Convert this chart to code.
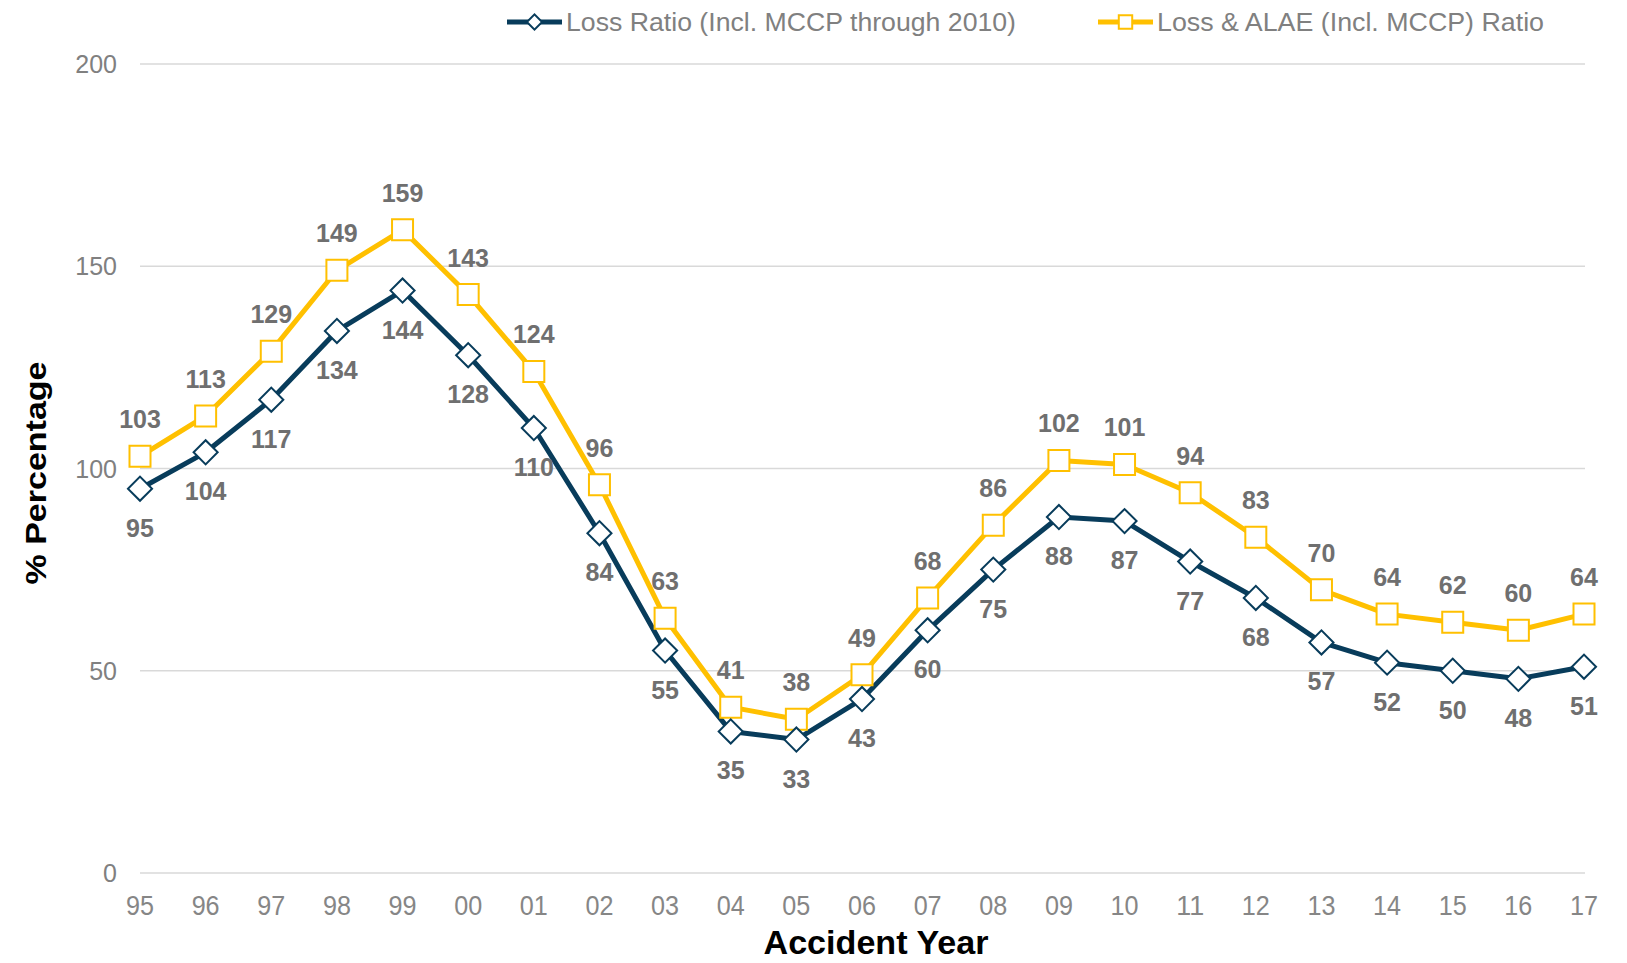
<!DOCTYPE html>
<html>
<head>
<meta charset="utf-8">
<script src="https://cdn.jsdelivr.net/npm/d3@7"></script>
<style>
    body { margin: 0; background: white; }
    svg { display: block; font-family: 'Liberation Sans', Arial, sans-serif; }
</style>
</head>
<body>
<div id="chart"></div>
<script>
// DATA
const years = ['95', '96', '97', '98', '99', '00', '01', '02', '03', '04', '05', '06',
    '07', '08', '09', '10', '11', '12', '13', '14', '15', '16', '17'];
const lossRatio = [95, 104, 117, 134, 144, 128, 110, 84, 55, 35, 33, 43, 60, 75, 88, 87, 77, 68, 57, 52, 50, 48, 51];
const lossAlae = [103, 113, 129, 149, 159, 143, 124, 96, 63, 41, 38, 49, 68, 86, 102, 101, 94, 83, 70, 64, 62, 60, 64];
const yTicks = [0, 50, 100, 150, 200];
const seriesNames = ['Loss Ratio (Incl. MCCP through 2010)', 'Loss & ALAE (Incl. MCCP) Ratio'];

// DIMENSIONS
const width = 1627;
const height = 963;
const navy = '#083c5b';
const gold = '#ffc000';

const svg = d3
    .select('#chart')
    .append('svg')
    .attr('width', width)
    .attr('height', height);

// SCALES
const xScale = d3
    .scalePoint()
    .domain(years)
    .range([140, 1584]);

const yScale = d3
    .scaleLinear()
    .domain([0, 200])
    .range([873, 64]);

// GRIDLINES
svg
    .append('g')
    .selectAll('line')
    .data(yTicks)
    .enter()
    .append('line')
    .attr('x1', 140)
    .attr('x2', 1585)
    .attr('y1', d => yScale(d))
    .attr('y2', d => yScale(d))
    .attr('stroke', '#d9d9d9')
    .attr('stroke-width', 1.5);

// Y TICK LABELS
svg
    .append('g')
    .selectAll('text')
    .data(yTicks)
    .enter()
    .append('text')
    .text(d => d)
    .attr('x', 117)
    .attr('y', d => yScale(d) + 9)
    .attr('text-anchor', 'end')
    .attr('font-size', 25)
    .attr('fill', '#808080');

// X TICK LABELS
svg
    .append('g')
    .selectAll('text')
    .data(years)
    .enter()
    .append('text')
    .text(d => d)
    .attr('x', d => xScale(d))
    .attr('y', 915)
    .attr('text-anchor', 'middle')
    .attr('font-size', 27)
    .attr('textLength', 28)
    .attr('lengthAdjust', 'spacingAndGlyphs')
    .attr('fill', '#868686');

// AXIS TITLES
svg
    .append('text')
    .text('Accident Year')
    .attr('x', 876)
    .attr('y', 954)
    .attr('text-anchor', 'middle')
    .attr('font-size', 33)
    .attr('font-weight', 'bold')
    .attr('textLength', 225)
    .attr('lengthAdjust', 'spacingAndGlyphs')
    .attr('fill', 'black');

svg
    .append('text')
    .text('% Percentage')
    .attr('transform', 'translate(46,473)rotate(-90)')
    .attr('text-anchor', 'middle')
    .attr('font-size', 30)
    .attr('font-weight', 'bold')
    .attr('textLength', 223)
    .attr('lengthAdjust', 'spacingAndGlyphs')
    .attr('fill', 'black');

// LINE GENERATOR
const line = d3
    .line()
    .x((d, i) => xScale(years[i]))
    .y(d => yScale(d));

const diamond = d3.symbol().type(d3.symbolSquare).size(290);
const square = d3.symbol().type(d3.symbolSquare).size(441);

// SERIES
const series = [
    { values: lossAlae, color: gold, marker: square, rot: 0, dy: -28 },
    { values: lossRatio, color: navy, marker: diamond, rot: 45, dy: 48 }
];

series.forEach(s => {
    svg
        .append('path')
        .datum(s.values)
        .attr('d', line)
        .attr('fill', 'none')
        .attr('stroke', s.color)
        .attr('stroke-width', 5)
        .attr('stroke-linejoin', 'round');
});

series.forEach(s => {
    svg
        .append('g')
        .selectAll('path')
        .data(s.values)
        .enter()
        .append('path')
        .attr('d', s.marker)
        .attr('transform', (d, i) => `translate(${xScale(years[i])},${yScale(d)})rotate(${s.rot})`)
        .attr('fill', 'white')
        .attr('stroke', s.color)
        .attr('stroke-width', 2);

    svg
        .append('g')
        .selectAll('text')
        .data(s.values)
        .enter()
        .append('text')
        .text(d => d)
        .attr('x', (d, i) => xScale(years[i]))
        .attr('y', d => yScale(d) + s.dy)
        .attr('text-anchor', 'middle')
        .attr('font-size', 25)
        .attr('font-weight', 'bold')
        .attr('fill', '#6f6f6f');
});

// LEGEND
const legend = [
    { name: seriesNames[0], color: navy, marker: d3.symbol().type(d3.symbolSquare).size(115), rot: 45, x: 507, w: 450 },
    { name: seriesNames[1], color: gold, marker: d3.symbol().type(d3.symbolSquare).size(180), rot: 0, x: 1098, w: 387 }
];

legend.forEach(l => {
    const g = svg.append('g').attr('transform', `translate(${l.x},22)`);
    g.append('line')
        .attr('x1', 0)
        .attr('x2', 55)
        .attr('stroke', l.color)
        .attr('stroke-width', 5);
    g.append('path')
        .attr('d', l.marker)
        .attr('transform', `translate(27.5,0)rotate(${l.rot})`)
        .attr('fill', 'white')
        .attr('stroke', l.color)
        .attr('stroke-width', 2);
    g.append('text')
        .text(l.name)
        .attr('x', 59)
        .attr('y', 9)
        .attr('font-size', 26)
        .attr('textLength', l.w)
        .attr('lengthAdjust', 'spacingAndGlyphs')
        .attr('fill', '#808080');
});
</script>
</body>
</html>
